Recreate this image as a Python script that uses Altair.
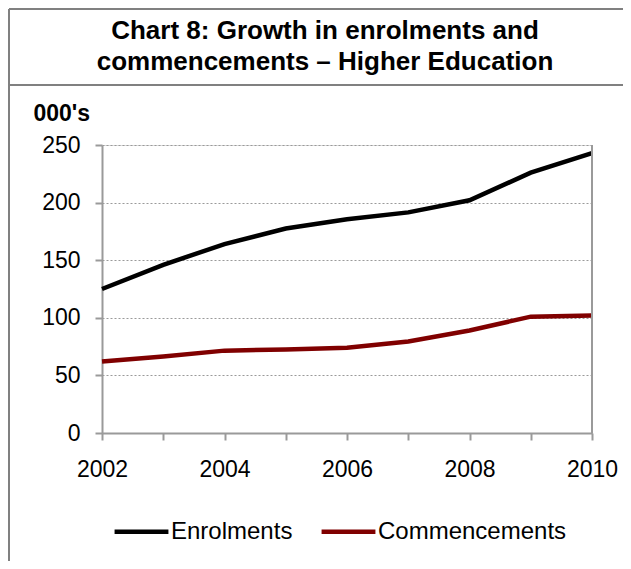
import altair as alt
import pandas as pd

years = [2002, 2003, 2004, 2005, 2006, 2007, 2008, 2009, 2010]
enrolments = [125, 146, 164, 177.5, 185.5, 191.5, 202, 226, 243]
commencements = [62, 66.5, 71.5, 72.5, 74, 79.5, 89, 101, 102]
series_names = ["Enrolments", "Commencements"]
series_colors = ["#000000", "#800000"]
y_ticks = [0, 50, 100, 150, 200, 250]
title_lines = ["Chart 8: Growth in enrolments and", "commencements \u2013 Higher Education"]
unit_label = "000's"

rows = []
for name, vals in zip(series_names, [enrolments, commencements]):
    for yr, v in zip(years, vals):
        rows.append({"Year": yr, "Value": v, "Series": name})
df = pd.DataFrame(rows)
one = pd.DataFrame({"k": [0]})

FONT = "Liberation Sans"
W, H = 490, 288
GRAY = "#9a9a9a"

x_scale = alt.Scale(domain=[years[0], years[-1]], nice=False, zero=False)
y_scale = alt.Scale(domain=[y_ticks[0], y_ticks[-1]], nice=False)

lines = alt.Chart(df).mark_line(strokeWidth=4.5).encode(
    x=alt.X("Year:Q", scale=x_scale,
            axis=alt.Axis(values=years, format="d",
                          labelExpr="datum.value % 2 == 0 ? datum.label : ''",
                          labelFlush=False, labelOverlap=False,
                          grid=False, tickSize=7, tickColor=GRAY, tickWidth=2,
                          domainColor=GRAY, domainWidth=2,
                          labelFont=FONT, labelFontSize=23, labelColor="#000",
                          labelPadding=18, title=None)),
    y=alt.Y("Value:Q", scale=y_scale,
            axis=alt.Axis(values=y_ticks, grid=True, gridDash=[2, 2], gridColor=GRAY,
                          gridWidth=1.2, tickSize=7, tickColor=GRAY, tickWidth=2,
                          domainColor=GRAY, domainWidth=2,
                          labelFont=FONT, labelFontSize=23, labelColor="#000",
                          labelPadding=15,
                          title=unit_label, titleAngle=0, titleAlign="left",
                          titleBaseline="alphabetic", titleX=-69, titleY=-25,
                          titleFont=FONT, titleFontSize=23, titleFontWeight="bold",
                          titleColor="#000")),
    color=alt.Color("Series:N", scale=alt.Scale(domain=series_names, range=series_colors),
                    legend=alt.Legend(orient="none", legendX=10, legendY=357,
                                      direction="horizontal", title=None,
                                      symbolType="stroke", symbolStrokeWidth=4.5,
                                      symbolSize=2900, labelFont=FONT,
                                      labelFontSize=24, labelColor="#000",
                                      labelLimit=400,
                                      labelOffset=0, columnPadding=19, padding=0)),
    order=alt.Order("Year:Q"),
)

right_border = alt.Chart(one).mark_rule(color=GRAY, strokeWidth=2).encode(
    x=alt.datum(years[-1], scale=x_scale),
    y=alt.datum(y_ticks[0], scale=y_scale),
    y2=alt.datum(y_ticks[-1]),
)

frame_top = alt.Chart(one).mark_rule(color="#808080", strokeWidth=2).encode(
    x=alt.value(-93), x2=alt.value(530), y=alt.value(-136))
frame_sep = alt.Chart(one).mark_rule(color="#808080", strokeWidth=2).encode(
    x=alt.value(-93), x2=alt.value(530), y=alt.value(-60))
frame_left = alt.Chart(one).mark_rule(color="#808080", strokeWidth=2).encode(
    x=alt.value(-93), y=alt.value(-136), y2=alt.value(H + 128))

chart = alt.layer(lines, right_border, frame_top, frame_sep, frame_left).properties(
    width=W, height=H,
    title=alt.TitleParams(text=title_lines, font=FONT, fontSize=26, fontWeight="bold",
                          anchor="middle", frame="group", dx=-22, offset=-93,
                          color="#000", lineHeight=31, baseline="bottom"),
    autosize=alt.AutoSizeParams(type="none"),
    padding={"left": 94, "top": 137, "right": 31, "bottom": 128},
).configure_view(stroke=None).configure(background="white")

chart.save("out.html", embed_options={"renderer": "svg", "actions": False})
